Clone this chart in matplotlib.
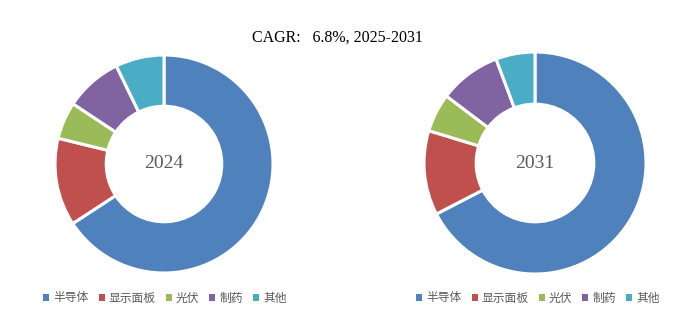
"""
CAGR donut charts: 2024 vs 2031 application share
"""
import matplotlib
matplotlib.use('Agg')
import matplotlib.pyplot as plt
from matplotlib.patches import Patch

plt.rcParams['font.family'] = ['Liberation Serif', 'Noto Sans CJK SC']

# Podaci (procenat po primeni)
categories = ['半导体', '显示面板', '光伏', '制药', '其他']
share_2024 = [65.8, 13.0, 5.5, 8.5, 7.2]
share_2031 = [67.4, 12.3, 5.6, 9.0, 5.7]
years = ['2024', '2031']
title_text = 'CAGR:   6.8%, 2025-2031'

colors = ['#4F81BD', '#C0504D', '#9BBB59', '#8064A2', '#4BACC6']
text_gray = '#595959'

W, H = 697, 322
fig = plt.figure(figsize=(W / 100, H / 100), dpi=100)


def donut(cx, cy, r, values, label):
    ax = fig.add_axes([(cx - r) / W, (H - cy - r) / H, 2 * r / W, 2 * r / H])
    ax.pie(values, colors=colors, startangle=90, counterclock=False,
           radius=1.0, wedgeprops=dict(width=0.47, edgecolor='white', linewidth=2.2))
    ax.set_xlim(-1, 1)
    ax.set_ylim(-1, 1)
    ax.axis('off')
    ax.text(0, 0, label, ha='center', va='center', fontsize=14, color=text_gray,
            family='Liberation Serif')
    return ax


donut(164, 164, 109, share_2024, years[0])
donut(535, 163, 111, share_2031, years[1])

fig.text(337 / W, 1 - 38 / H, title_text, ha='center', va='center', fontsize=11.5, color='black')

# Legende ispod svakog grafikona
handles = [Patch(facecolor=c, edgecolor='none') for c in colors]
for x_center in (165, 538):
    fig.legend(handles, categories, loc='center', bbox_to_anchor=(x_center / W, 1 - 298 / H),
               ncol=5, frameon=False, handlelength=0.5, handleheight=0.5,
               handletextpad=0.35, columnspacing=0.85,
               prop=dict(family=['Noto Sans CJK SC'], size=8.5), labelcolor=text_gray)

fig.savefig('out.png', dpi=100)
